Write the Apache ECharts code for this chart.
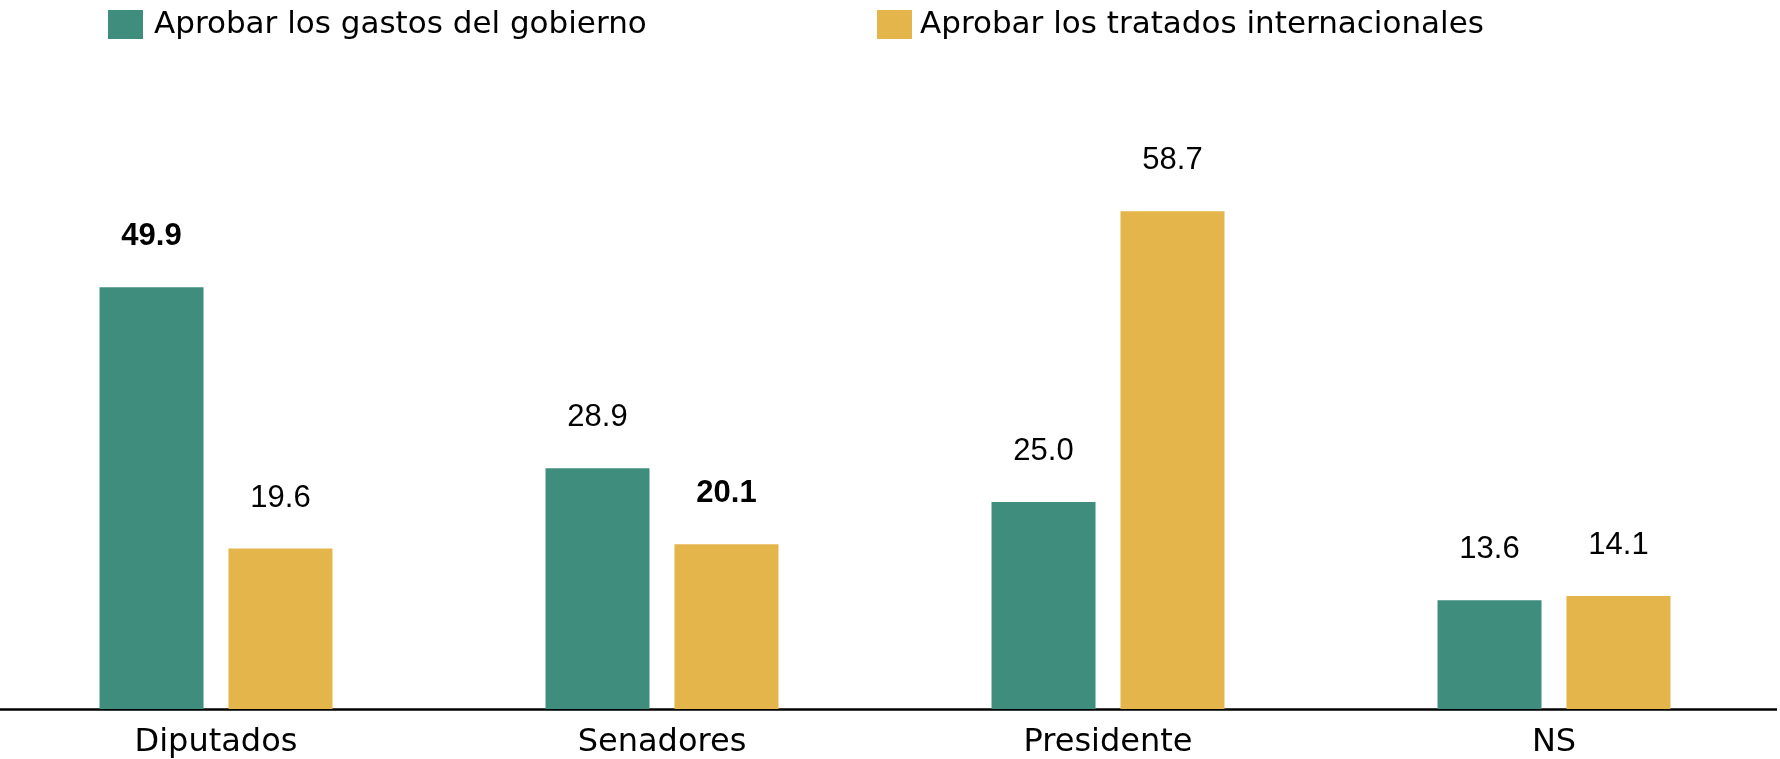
<!DOCTYPE html>
<html>
<head>
<meta charset="utf-8">
<script src="https://cdn.jsdelivr.net/npm/echarts@6/dist/echarts.min.js"></script>
<style>
  html, body { margin: 0; padding: 0; background: #fff; overflow: hidden; }
  #chart { position: absolute; left: -7px; top: 0; }
</style>
</head>
<body>
<div id="chart" style="width: 1784px; height: 759px"></div>
<script>
const categories = ['Diputados', 'Senadores', 'Presidente', 'NS']
const seriesNames = ['Aprobar los gastos del gobierno', 'Aprobar los tratados internacionales']
const gastos = [49.9, 28.9, 25.0, 13.6]
const tratados = [19.6, 20.1, 58.7, 14.1]

const colors = ['#3F8D7C', '#E4B54A']
// labels in bold in the original (index per series)
const boldGastos = 0
const boldTratados = 1

const numFont = '"Liberation Sans", Arial, sans-serif'
const textFont = '"DejaVu Sans", sans-serif'

function makeData(values, boldIndex) {
  return values.map((v, i) => ({
    value: v,
    label: { fontWeight: i === boldIndex ? 'bold' : 'normal' }
  }))
}

const valueLabel = {
  show: true,
  position: 'top',
  distance: 35,
  fontFamily: numFont,
  fontSize: 31,
  color: '#000',
  formatter: (p) => p.value.toFixed(1)
}

const option = {
  animation: false,
  legend: [
    {
      data: [seriesNames[0]],
      left: 115,
      top: 9,
      padding: 0,
      itemWidth: 35,
      itemHeight: 29,
      icon: 'rect',
      textStyle: { fontFamily: textFont, fontSize: 31, color: '#000', padding: [0, 0, 0, 6] }
    },
    {
      data: [seriesNames[1]],
      left: 884,
      top: 9,
      padding: 0,
      itemWidth: 35,
      itemHeight: 29,
      icon: 'rect',
      textStyle: { fontFamily: textFont, fontSize: 31, color: '#000', padding: [0, 0, 0, 3] }
    }
  ],
  grid: {
    left: 0,
    right: 0,
    top: 200,
    bottom: 47
  },
  xAxis: {
    type: 'category',
    data: categories,
    axisLine: { lineStyle: { color: '#000', width: 2.5 } },
    axisTick: { show: false },
    axisLabel: {
      fontFamily: textFont,
      fontSize: 32,
      color: '#000',
      margin: 18
    }
  },
  yAxis: {
    type: 'value',
    min: 1,
    max: 60,
    show: false,
    splitLine: { show: false }
  },
  series: [
    {
      name: seriesNames[0],
      type: 'bar',
      barWidth: 104,
      barGap: '24%',
      itemStyle: { color: colors[0] },
      data: makeData(gastos, boldGastos),
      label: valueLabel
    },
    {
      name: seriesNames[1],
      type: 'bar',
      barWidth: 104,
      itemStyle: { color: colors[1] },
      data: makeData(tratados, boldTratados),
      label: valueLabel
    }
  ]
}

const myChart = echarts.init(document.getElementById('chart'))
myChart.setOption(option)
window.addEventListener('resize', () => {
  myChart.resize()
})
</script>
</body>
</html>
